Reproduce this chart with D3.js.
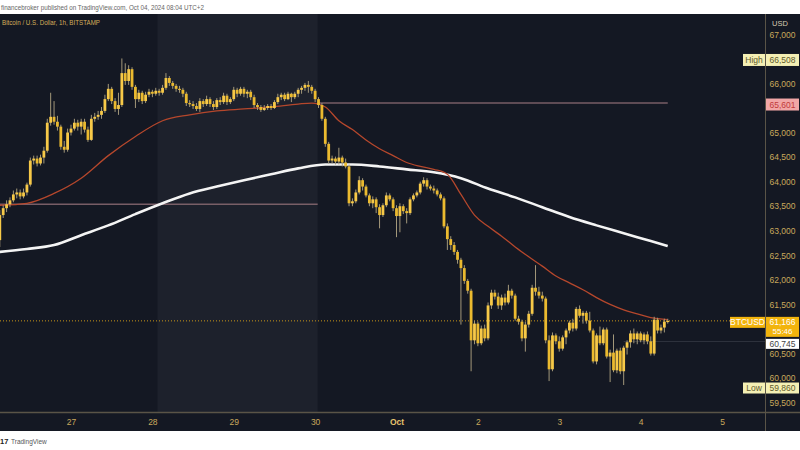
<!DOCTYPE html>
<html><head><meta charset="utf-8">
<script src="https://cdn.jsdelivr.net/npm/d3@7"></script>
<style>body{margin:0;background:#fff}svg{display:block}</style>
</head><body><svg id="c" width="800" height="450"></svg>
<script>
// ---------- DATA (hourly candles, BTCUSD Bitstamp) ----------
const firstCandle = [2024, 8, 26, 3]; // Sep 26 03:00, one candle per hour
const opens = [
62810,63320,63460,63540,63620,63740,63780,63700,63780,63940,
64430,64470,64370,64490,64630,65200,65320,65220,65120,64710,
64650,65000,65080,65200,65120,65220,65060,64850,65280,65320,
65360,65440,65680,65890,65640,65480,65560,66210,66050,66290,
65930,65680,65810,65640,65770,65830,65790,65850,65810,65910,
66110,66010,65950,65890,65870,65790,65600,65580,65540,65480,
65640,65580,65680,65580,65520,65660,65620,65750,65620,65680,
65870,65790,65890,65790,65830,65720,65560,65520,65460,65500,
65540,65500,65620,65720,65770,65680,65790,65720,65790,65870,
65910,65970,65930,65850,65680,65560,65280,64770,64430,64470,
64410,64490,64390,64310,63560,63600,63780,64030,63900,63720,
63560,63640,63480,63320,63520,63720,63640,63460,63300,63500,
63400,63360,63640,63720,63780,63960,64030,63900,63860,63820,
63740,63660,63090,62830,62710,62570,62410,62240,61980,61780,
60770,61110,60710,61010,60810,61480,61740,61660,61480,61640,
61540,61780,61680,61210,61150,60810,61090,61310,61840,61760,
61680,61620,60770,60180,60870,60750,60600,60830,60970,61130,
61010,61410,61270,61330,61170,60970,60340,60870,60710,60990,
60440,60520,60160,60560,60140,60620,60730,60910,60790,60910,
60770,60890,60750,60500,61190,60970,61030,61150];
const highs = [
63420,63520,63620,63680,63820,63860,63840,63860,63980,64490,
64530,64530,64550,64710,65280,65810,65640,65340,65160,64830,
65080,65160,65280,65260,65280,65280,65120,65360,65400,65440,
65520,65770,65990,65930,65700,65810,66508,66410,66370,66330,
65970,65870,65850,65830,65890,65870,65910,65890,65970,66210,
66150,66050,65990,65950,65910,65830,65660,65640,65600,65700,
65680,65750,65720,65640,65700,65720,65810,65790,65720,65930,
65910,65930,65930,65870,65870,65770,65600,65560,65560,65580,
65580,65660,65790,65810,65810,65830,65810,65830,65910,65950,
66010,66050,65970,65890,65720,65600,65320,64810,64530,64510,
64690,64530,64470,64350,63660,63840,64110,64070,63940,63760,
63700,63680,63540,63560,63780,63760,63680,63520,63560,63540,
63460,63680,63760,63820,64000,64090,64070,63940,63920,63860,
63780,63700,63150,62890,62770,62610,62450,62300,62020,61820,
61170,61150,61070,61090,61540,61800,61800,61740,61700,61720,
61900,61820,61720,61270,61190,61150,61370,61900,62300,61860,
61760,61660,60870,60930,60910,60850,60870,61010,61170,61210,
61450,61480,61370,61370,61350,61010,60910,61050,61030,61030,
60580,60890,60600,60620,60660,60770,60970,61010,60950,60950,
60930,60950,60850,61250,61230,61090,61210,61210];
const lows = [
62670,63260,63380,63480,63580,63660,63640,63660,63720,63900,
64350,64310,64330,64370,64590,65140,65160,65040,64650,64590,
64610,64940,65040,65040,64960,65000,64810,64830,65220,65260,
65280,65400,65640,65580,65420,65360,65520,65970,65970,65870,
65500,65620,65580,65600,65720,65720,65750,65750,65770,65870,
65950,65890,65830,65810,65720,65540,65520,65480,65440,65420,
65520,65540,65520,65460,65480,65560,65580,65560,65580,65640,
65720,65750,65720,65700,65660,65500,65460,65420,65440,65460,
65460,65480,65580,65660,65640,65660,65620,65680,65720,65790,
65850,65810,65790,65620,65500,65240,64710,64370,64370,64350,
64350,64310,64270,63500,63500,63560,63740,63820,63680,63500,
63460,63360,63050,63280,63480,63600,63400,62870,62970,63340,
63150,63320,63600,63680,63740,63900,63840,63820,63760,63700,
63620,63050,62610,62610,62510,62330,61090,61920,61720,60140,
60690,60650,60670,60750,60770,61410,61600,61410,61390,61480,
61500,61620,61170,61090,60750,60540,61030,61270,61680,61620,
61560,60710,59940,60140,60690,60540,60560,60690,60910,60950,
60970,61230,61110,61110,60930,60300,60280,60670,60670,60400,
59920,60120,60100,60080,59860,60480,60620,60710,60690,60730,
60690,60690,60460,60460,60910,60910,60930,61110];
const closes = [
63320,63460,63540,63620,63740,63780,63700,63780,63940,64430,
64470,64370,64490,64630,65200,65320,65220,65120,64710,64650,
65000,65080,65200,65120,65220,65060,64850,65280,65320,65360,
65440,65680,65890,65640,65480,65560,66210,66050,66290,65930,
65680,65810,65640,65770,65830,65790,65850,65810,65910,66110,
66010,65950,65890,65870,65790,65600,65580,65540,65480,65640,
65580,65680,65580,65520,65660,65620,65750,65620,65680,65870,
65790,65890,65790,65830,65720,65560,65520,65460,65500,65540,
65500,65620,65720,65770,65680,65790,65720,65790,65870,65910,
65970,65930,65850,65680,65560,65280,64770,64430,64470,64410,
64490,64390,64310,63560,63600,63780,64030,63900,63720,63560,
63640,63480,63320,63520,63720,63640,63460,63300,63500,63400,
63360,63640,63720,63780,63960,64030,63900,63860,63820,63740,
63660,63090,62830,62710,62570,62410,62240,61980,61780,60770,
61110,60710,61010,60810,61480,61740,61660,61480,61640,61540,
61780,61680,61210,61150,60810,61090,61310,61840,61760,61680,
61620,60770,60180,60870,60750,60600,60830,60970,61130,61010,
61410,61270,61330,61170,60970,60340,60870,60710,60990,60440,
60520,60160,60560,60140,60620,60730,60910,60790,60910,60770,
60890,60750,60500,61190,60970,61030,61150,61166];

// moving averages, read at candle indices
const ma50Idx = [0,8,16,24,32,40,48,56,64,72,80,88,92,96,100,104,108,112,116,120,124,128,132,136,140,144,148,152,156,160,164,168,172,176,180,184,188,192,197];
const ma50 = [63520,63560,63760,64070,64530,64920,65240,65360,65440,65480,65520,65580,65600,65520,65240,65060,64850,64670,64530,64390,64310,64250,64150,63740,63320,63090,62890,62670,62470,62280,62080,61940,61800,61640,61500,61390,61310,61230,61190];
const ma200Idx = [0,8,16,24,32,40,48,56,64,72,80,88,96,104,112,120,128,136,144,152,160,168,176,184,192,197];
const ma200 = [62570,62630,62710,62910,63110,63340,63560,63760,63900,64030,64150,64270,64350,64350,64310,64250,64190,64070,63860,63680,63480,63280,63110,62950,62790,62690];

// price-axis ticks (those hidden under the High / 65,601 / BTCUSD badges are left out)
const priceTicks = [59500,60000,60500,61500,62000,62500,63000,63500,64000,64500,65000,66000,67000];
const dayTicks = [[2024,8,27],[2024,8,28],[2024,8,29],[2024,8,30],[2024,9,1],[2024,9,2],[2024,9,3],[2024,9,4],[2024,9,5]];
const dayLabels = ["27","28","29","30","Oct","2","3","4","5"];
const weekendBand = [[2024,8,28,1,30],[2024,8,30,0,45]];
const highValue = 66508, lowValue = 59860, lastValue = 61166, prevValue = 60745, levelValue = 65601;
const levelA = {price:65601, from:[2024,8,30,0,45], to:[2024,9,4,8]};
const levelB = {price:63540, from:[2024,8,26,3], to:[2024,8,30,0,45]};
const prevLineFrom = [2024,9,3,19];
const countdown = "55:46";
const headerText = "financebroker published on TradingView.com, Oct 04, 2024 08:04 UTC+2";
const titleText = "Bitcoin / U.S. Dollar, 1h, BITSTAMP";

// ---------- DRAW ----------
const D = a => new Date(a[0], a[1], a[2], a[3]||0, a[4]||0);
const candles = closes.map((c,i)=>({t:new Date(firstCandle[0],firstCandle[1],firstCandle[2],firstCandle[3]+i), o:opens[i], h:highs[i], l:lows[i], c}));
const svg = d3.select('#c');
const FONT = "'Liberation Sans', Arial, sans-serif";
const plotR = 765, plotT = 14, plotB = 412.5, bottomB = 431;

const x = d3.scaleTime().domain([D(dayTicks[0]), D(dayTicks[8])]).range([71, 722]);
const y = d3.scaleLinear().domain([59500, 67000]).range([402.7, 34.3]);

svg.append('rect').attr('width',800).attr('height',450).attr('fill','#ffffff');
svg.append('rect').attr('x',0).attr('y',plotT).attr('width',800).attr('height',bottomB-plotT).attr('fill','#141823');

svg.append('defs').append('clipPath').attr('id','pc').append('rect')
  .attr('x',0).attr('y',plotT).attr('width',plotR).attr('height',plotB-plotT);
const g = svg.append('g').attr('clip-path','url(#pc)');

// weekend band
g.append('rect').attr('x',x(D(weekendBand[0]))).attr('y',plotT)
  .attr('width',x(D(weekendBand[1]))-x(D(weekendBand[0]))).attr('height',plotB-plotT)
  .attr('fill','#1d212c');

// level lines
[levelA, levelB].forEach(L=>{
  g.append('line').attr('x1',x(D(L.from))).attr('x2',x(D(L.to)))
   .attr('y1',y(L.price)).attr('y2',y(L.price))
   .attr('stroke','#8a6a72').attr('stroke-width',1.3).attr('opacity',0.85);
});
// previous close line
g.append('line').attr('x1',x(D(prevLineFrom))).attr('x2',plotR)
  .attr('y1',y(prevValue)).attr('y2',y(prevValue))
  .attr('stroke','#5e626c').attr('stroke-width',0.8).attr('opacity',0.45);
// last price dotted line
g.append('line').attr('x1',0).attr('x2',plotR).attr('y1',y(lastValue)).attr('y2',y(lastValue))
  .attr('stroke','#c9971a').attr('stroke-width',1).attr('stroke-dasharray','1,2');

// moving averages
const maLine = (idx) => d3.line().x((d,k)=>x(candles[idx[k]].t)).y(d=>y(d)).curve(d3.curveMonotoneX);
g.append('path').datum(ma200).attr('d',maLine(ma200Idx)).attr('fill','none')
  .attr('stroke','#f4f4f4').attr('stroke-width',2.6);
g.append('path').datum(ma50).attr('d',maLine(ma50Idx)).attr('fill','none')
  .attr('stroke','#b5472c').attr('stroke-width',1.3);

// candles
const bw = 2.8;
const cg = g.append('g');
cg.selectAll('line.w').data(candles).join('line').attr('class','w')
  .attr('x1',d=>x(d.t)).attr('x2',d=>x(d.t)).attr('y1',d=>y(d.h)).attr('y2',d=>y(d.l))
  .attr('stroke','#a3987a').attr('stroke-width',1);
cg.selectAll('rect.b').data(candles).join('rect').attr('class','b')
  .attr('x',d=>x(d.t)-bw/2).attr('width',bw)
  .attr('y',d=>y(Math.max(d.o,d.c))).attr('height',d=>Math.max(1.2,Math.abs(y(d.o)-y(d.c))))
  .attr('fill',d=>d.c>=d.o?'#f7c948':'#ebba2f');

// axes lines
svg.append('line').attr('x1',0).attr('x2',800).attr('y1',plotB).attr('y2',plotB)
  .attr('stroke','#5a5447').attr('stroke-width',1.5);
svg.append('line').attr('x1',plotR+0.5).attr('x2',plotR+0.5).attr('y1',plotT).attr('y2',bottomB)
  .attr('stroke','#5a5447').attr('stroke-width',1);

// x axis labels
const xa = svg.append('g').attr('transform',`translate(0,${plotB})`)
  .call(d3.axisBottom(x).tickValues(dayTicks.map(D)).tickSize(0).tickFormat((d,i)=>dayLabels[i]));
xa.select('.domain').remove();
xa.selectAll('text').attr('dy',null).attr('y',12.5).attr('font-family',FONT).attr('font-size',8.5)
  .attr('fill',(d,i)=>dayLabels[i]==='Oct'?'#e6c46e':'#c9a85c').attr('font-weight',(d,i)=>dayLabels[i]==='Oct'?'bold':'normal');

// y axis labels
const ya = svg.append('g').attr('transform',`translate(${plotR},0)`)
  .call(d3.axisRight(y).tickValues(priceTicks).tickSize(0).tickFormat(d3.format(',')));
ya.select('.domain').remove();
ya.selectAll('text').attr('x',17.5).attr('text-anchor','middle').attr('font-family',FONT)
  .attr('font-size',8.5).attr('fill','#c9a85c');
svg.append('text').attr('x',772).attr('y',26).attr('font-family',FONT).attr('font-size',7.5)
  .attr('fill','#d6ccb2').text('USD');

// axis badges
function badge(yc, h, tag, tagX, val, fill, color, val2){
  const top = yc - h/2;
  if(tag){
    svg.append('rect').attr('x',tagX).attr('y',top).attr('width',plotR-tagX).attr('height',h).attr('fill',fill);
    svg.append('text').attr('x',(tagX+plotR)/2).attr('y',top+h/2+3).attr('text-anchor','middle')
      .attr('font-family',FONT).attr('font-size',8.5).attr('fill',color).text(tag);
  }
  const hh = val2 ? h*2-2 : h;
  svg.append('rect').attr('x',plotR+1).attr('y',top).attr('width',800-plotR-2).attr('height',hh).attr('fill',fill);
  svg.append('text').attr('x',782.5).attr('y',top+h/2+3).attr('text-anchor','middle')
    .attr('font-family',FONT).attr('font-size',8.5).attr('fill',color).text(val);
  if(val2) svg.append('text').attr('x',782.5).attr('y',top+h/2+12).attr('text-anchor','middle')
    .attr('font-family',FONT).attr('font-size',8).attr('fill',color).text(val2);
}
const f = d3.format(',');
badge(y(highValue)+1.5, 12, 'High', 743, f(highValue), '#f4efb4', '#5f5a2c');
badge(y(levelValue)+1.5, 12, null, 0, f(levelValue), '#f1a6a6', '#c23a3a');
badge(y(lastValue)+1.5, 11, 'BTCUSD', 730, f(lastValue), '#f2b40d', '#ffffff', countdown);
badge(y(lastValue)+23, 10, null, 0, f(prevValue), '#ffffff', '#444444');
badge(y(lowValue)+3, 11, 'Low', 743, f(lowValue), '#f4efb4', '#5f5a2c');

// header / title / footer
svg.append('text').attr('x',1).attr('y',9.5).attr('font-family',FONT).attr('font-size',7)
  .attr('fill','#666').attr('textLength',203).attr('lengthAdjust','spacingAndGlyphs').text(headerText);
svg.append('text').attr('x',2).attr('y',25).attr('font-family',FONT).attr('font-size',7)
  .attr('fill','#d4ae5a').attr('textLength',98).attr('lengthAdjust','spacingAndGlyphs').text(titleText);
svg.append('text').attr('x',0).attr('y',444).attr('font-family',FONT).attr('font-size',7.5)
  .attr('font-weight','bold').attr('fill','#222').text('17');
svg.append('text').attr('x',11).attr('y',444).attr('font-family',FONT).attr('font-size',6.5)
  .attr('fill','#555').text('TradingView');
</script></body></html>
